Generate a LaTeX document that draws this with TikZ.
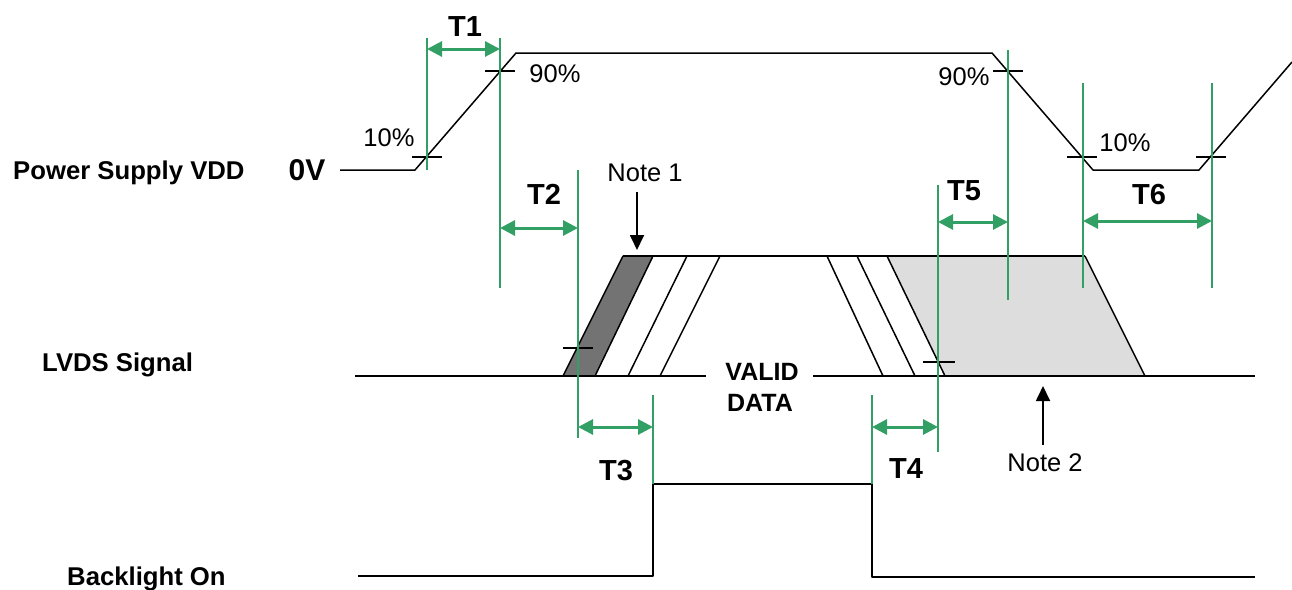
\documentclass[tikz,border=0pt]{standalone}
\usepackage{fontspec}
\setmainfont{Liberation Sans}
\usetikzlibrary{arrows.meta}
\definecolor{tgreen}{RGB}{50,160,100}
\definecolor{darkfill}{RGB}{115,115,115}
\definecolor{lightfill}{RGB}{221,221,221}
\begin{document}
\begin{tikzpicture}[x=1pt,y=-1pt,
  sig/.style={line width=1.5pt, black, line join=round},
  gline/.style={line width=1.3pt, tgreen},
  garrow/.style={line width=3pt, tgreen, {Triangle[length=15pt,width=15pt]}-{Triangle[length=15pt,width=15pt]}},
  tickmark/.style={line width=1.2pt, black},
  pct/.style={font=\fontsize{25.5}{25.5}\selectfont, inner sep=0pt},
  tlab/.style={font=\bfseries\fontsize{29}{29}\selectfont, inner sep=0pt},
  vlab/.style={font=\bfseries\fontsize{25}{25}\selectfont, inner sep=0pt},
  rowlab/.style={font=\bfseries\fontsize{25.7}{25.7}\selectfont, inner sep=0pt, anchor=base west},
  notearrow/.style={line width=1.8pt, black, -{Triangle[length=15pt,width=14pt]}}]
\useasboundingbox (0,0) rectangle (1292,589);

% ---- Power supply VDD ----
\draw[sig] (340,170) -- (415,170) -- (516,53) -- (992,53) -- (1093,170) -- (1199,170) -- (1292,62);
\foreach \n/\x/\y in {ta/427/157, tb/500/71, tc/1008/71, td/1082/157, te/1211/157}
  \draw[tickmark] (\x-15,\y) -- (\x+15,\y);

% ---- LVDS signal ----
\fill[lightfill] (887,256) -- (1085,256) -- (1145,376) -- (945,376) -- cycle;
\fill[darkfill] (563,376) -- (623,256) -- (653,256) -- (595,376) -- cycle;
\draw[sig] (355,376) -- (706,376);
\draw[sig] (813,376) -- (1255,376);
\draw[sig] (623,256) -- (1085,256);
\draw[sig] (563,376) -- (623,256);
\draw[sig] (595,376) -- (653,256);
\draw[sig] (628,376) -- (687,256);
\draw[sig] (660,376) -- (720,256);
\draw[sig] (827,256) -- (883,376);
\draw[sig] (857,256) -- (915,376);
\draw[sig] (887,256) -- (945,376);
\draw[sig] (1085,256) -- (1145,376);
\draw[tickmark] (563,348) -- (593,348);
\draw[tickmark] (923,362) -- (955,362);

% ---- Backlight ----
\draw[sig] (358,576) -- (653,576) -- (653,484) -- (872,484) -- (872,577) -- (1255,577);

% ---- green extension lines ----
\draw[gline] (427,38) -- (427,170);
\draw[gline] (500,38) -- (500,288);
\draw[gline] (578,170) -- (578,438);
\draw[gline] (653,395) -- (653,484);
\draw[gline] (872,395) -- (872,484);
\draw[gline] (938,185) -- (938,452);
\draw[gline] (1008,50) -- (1008,300);
\draw[gline] (1083,83) -- (1083,288);
\draw[gline] (1212,83) -- (1212,288);

% ---- timing arrows ----
\coordinate (a1l) at (427,49);  \coordinate (a1r) at (500,49);
\coordinate (a2l) at (500,228); \coordinate (a2r) at (578,228);
\coordinate (a3l) at (578,427); \coordinate (a3r) at (653,427);
\coordinate (a4l) at (872,427); \coordinate (a4r) at (938,427);
\coordinate (a5l) at (938,222); \coordinate (a5r) at (1008,222);
\coordinate (a6l) at (1083,221);\coordinate (a6r) at (1212,221);
\draw[garrow] (a1l) -- (a1r);
\draw[garrow] (a2l) -- (a2r);
\draw[garrow] (a3l) -- (a3r);
\draw[garrow] (a4l) -- (a4r);
\draw[garrow] (a5l) -- (a5r);
\draw[garrow] (a6l) -- (a6r);

% ---- labels ----
\node[tlab] (t1) at (465,27) {T1};
\node[tlab] (t2) at (544,194) {T2};
\node[tlab] (t3) at (616,471) {T3};
\node[tlab] (t4) at (906,469) {T4};
\node[tlab] (t5) at (964,191) {T5};
\node[tlab] (t6) at (1149,195) {T6};
\node[pct] (p10a) at (389,138) {10\%};
\node[pct] (p90a) at (555,74) {90\%};
\node[pct] (p90b) at (964,77) {90\%};
\node[pct] (p10b) at (1125,143) {10\%};
\node[pct] (n1) at (645,173) {Note 1};
\node[pct] (n2) at (1045,463) {Note 2};
\coordinate (n1tail) at (637,192);
\coordinate (n1tip) at (637,250);
\coordinate (n2tail) at (1043,445);
\coordinate (n2tip) at (1043,386);
\draw[notearrow] (n1tail) -- (n1tip);
\draw[notearrow] (n2tail) -- (n2tip);
\node[vlab] (valid) at (762,372) {VALID};
\node[vlab] (data) at (760,403) {DATA};
\node[rowlab] (vdd) at (13,179) {Power Supply VDD};
\node[font=\bfseries\fontsize{30}{30}\selectfont, inner sep=0pt] (zerov) at (307,170) {0V};
\node[rowlab] (lvds) at (42,371) {LVDS Signal};
\node[rowlab] (bl) at (67,585) {Backlight On};
\end{tikzpicture}
\end{document}
